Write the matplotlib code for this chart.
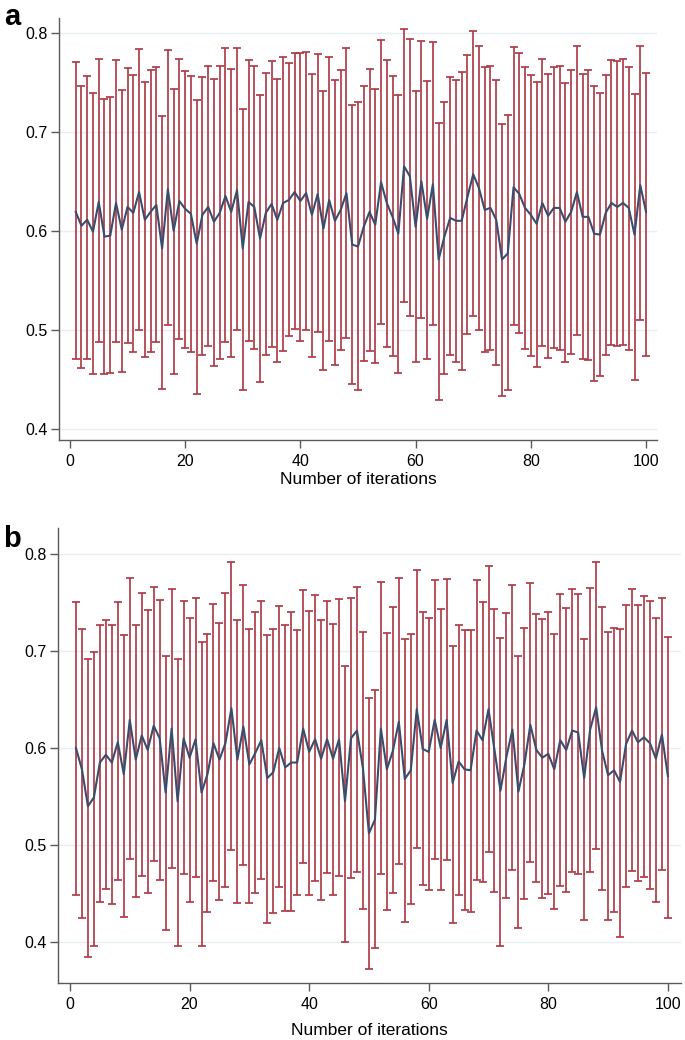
"""
Convergence of the estimate over repeated iterations, two panels (a, b).

Each panel shows the mean value per iteration with its interval as
red error bars, and the means joined by a line.
"""

import numpy as np
import matplotlib.pyplot as plt

plt.rcParams["font.family"] = ["Liberation Sans Narrow", "Liberation Sans", "DejaVu Sans"]

iterations = np.arange(1, 101)

# panel a
mean_a = [
    0.619, 0.605, 0.611, 0.599, 0.629, 0.594, 0.595, 0.628, 0.601, 0.624,
    0.618, 0.639, 0.611, 0.619, 0.626, 0.582, 0.642, 0.600, 0.630, 0.622,
    0.617, 0.587, 0.616, 0.624, 0.609, 0.618, 0.635, 0.619, 0.641, 0.582,
    0.629, 0.624, 0.592, 0.618, 0.627, 0.611, 0.628, 0.631, 0.639, 0.630,
    0.638, 0.616, 0.637, 0.602, 0.631, 0.610, 0.621, 0.638, 0.586, 0.584,
    0.604, 0.619, 0.606, 0.649, 0.628, 0.614, 0.597, 0.665, 0.655, 0.604,
    0.650, 0.612, 0.647, 0.571, 0.594, 0.613, 0.610, 0.610, 0.634, 0.657,
    0.643, 0.621, 0.623, 0.611, 0.571, 0.577, 0.644, 0.637, 0.623, 0.616,
    0.607, 0.628, 0.615, 0.623, 0.623, 0.609, 0.619, 0.639, 0.614, 0.614,
    0.597, 0.596, 0.618, 0.628, 0.624, 0.628, 0.623, 0.596, 0.646, 0.619,
]
upper_a = [
    0.770, 0.746, 0.756, 0.739, 0.773, 0.733, 0.735, 0.772, 0.742, 0.764,
    0.757, 0.783, 0.750, 0.762, 0.765, 0.716, 0.782, 0.743, 0.773, 0.761,
    0.756, 0.732, 0.755, 0.766, 0.753, 0.766, 0.784, 0.763, 0.784, 0.723,
    0.772, 0.766, 0.737, 0.759, 0.771, 0.753, 0.775, 0.769, 0.779, 0.779,
    0.780, 0.758, 0.778, 0.741, 0.775, 0.752, 0.762, 0.785, 0.727, 0.730,
    0.746, 0.763, 0.743, 0.793, 0.772, 0.756, 0.737, 0.804, 0.794, 0.741,
    0.792, 0.751, 0.791, 0.709, 0.730, 0.755, 0.752, 0.760, 0.777, 0.802,
    0.787, 0.765, 0.766, 0.752, 0.708, 0.717, 0.786, 0.779, 0.765, 0.757,
    0.750, 0.773, 0.758, 0.765, 0.766, 0.749, 0.762, 0.787, 0.758, 0.762,
    0.746, 0.739, 0.757, 0.772, 0.771, 0.773, 0.765, 0.738, 0.787, 0.759,
]
lower_a = [
    0.470, 0.461, 0.470, 0.455, 0.488, 0.455, 0.456, 0.488, 0.457, 0.487,
    0.477, 0.500, 0.472, 0.477, 0.488, 0.440, 0.505, 0.455, 0.491, 0.482,
    0.477, 0.435, 0.474, 0.484, 0.463, 0.470, 0.488, 0.472, 0.500, 0.439,
    0.489, 0.481, 0.447, 0.474, 0.483, 0.467, 0.479, 0.494, 0.501, 0.489,
    0.500, 0.472, 0.498, 0.459, 0.489, 0.464, 0.480, 0.492, 0.445, 0.439,
    0.468, 0.478, 0.466, 0.506, 0.483, 0.473, 0.456, 0.528, 0.514, 0.467,
    0.512, 0.470, 0.505, 0.429, 0.455, 0.474, 0.467, 0.459, 0.496, 0.514,
    0.500, 0.477, 0.480, 0.464, 0.433, 0.439, 0.505, 0.497, 0.481, 0.473,
    0.462, 0.484, 0.471, 0.482, 0.480, 0.467, 0.475, 0.495, 0.470, 0.469,
    0.448, 0.453, 0.474, 0.485, 0.484, 0.485, 0.480, 0.449, 0.510, 0.473,
]

# panel b
mean_b = [
    0.600, 0.578, 0.540, 0.549, 0.585, 0.593, 0.585, 0.606, 0.573, 0.629,
    0.588, 0.613, 0.598, 0.623, 0.610, 0.554, 0.620, 0.545, 0.610, 0.590,
    0.609, 0.554, 0.573, 0.605, 0.588, 0.605, 0.641, 0.588, 0.622, 0.583,
    0.595, 0.608, 0.569, 0.575, 0.600, 0.580, 0.585, 0.585, 0.620, 0.596,
    0.609, 0.589, 0.609, 0.589, 0.609, 0.545, 0.610, 0.618, 0.579, 0.512,
    0.526, 0.620, 0.578, 0.597, 0.627, 0.568, 0.577, 0.640, 0.599, 0.596,
    0.629, 0.600, 0.629, 0.564, 0.586, 0.578, 0.577, 0.618, 0.608, 0.640,
    0.598, 0.556, 0.591, 0.619, 0.555, 0.583, 0.624, 0.598, 0.590, 0.594,
    0.578, 0.608, 0.598, 0.618, 0.616, 0.569, 0.619, 0.642, 0.597, 0.572,
    0.577, 0.565, 0.604, 0.618, 0.606, 0.611, 0.605, 0.589, 0.614, 0.571,
]
upper_b = [
    0.751, 0.723, 0.692, 0.699, 0.727, 0.732, 0.727, 0.750, 0.717, 0.775,
    0.727, 0.760, 0.742, 0.766, 0.753, 0.695, 0.764, 0.692, 0.752, 0.734,
    0.755, 0.709, 0.718, 0.748, 0.729, 0.760, 0.792, 0.732, 0.768, 0.723,
    0.740, 0.752, 0.717, 0.723, 0.746, 0.727, 0.740, 0.722, 0.763, 0.741,
    0.758, 0.732, 0.752, 0.728, 0.754, 0.685, 0.755, 0.766, 0.720, 0.652,
    0.660, 0.771, 0.719, 0.745, 0.775, 0.712, 0.718, 0.784, 0.740, 0.734,
    0.773, 0.743, 0.774, 0.705, 0.727, 0.722, 0.722, 0.773, 0.750, 0.788,
    0.743, 0.713, 0.739, 0.768, 0.695, 0.724, 0.770, 0.738, 0.733, 0.740,
    0.718, 0.759, 0.744, 0.764, 0.759, 0.712, 0.765, 0.792, 0.745, 0.720,
    0.724, 0.723, 0.747, 0.764, 0.747, 0.757, 0.752, 0.734, 0.755, 0.714,
]
lower_b = [
    0.448, 0.425, 0.385, 0.396, 0.441, 0.455, 0.439, 0.464, 0.426, 0.486,
    0.446, 0.468, 0.451, 0.483, 0.464, 0.412, 0.476, 0.396, 0.470, 0.441,
    0.467, 0.396, 0.431, 0.463, 0.443, 0.457, 0.495, 0.440, 0.479, 0.440,
    0.450, 0.465, 0.420, 0.430, 0.457, 0.432, 0.432, 0.448, 0.481, 0.448,
    0.463, 0.443, 0.471, 0.448, 0.468, 0.400, 0.466, 0.472, 0.434, 0.372,
    0.394, 0.470, 0.433, 0.450, 0.480, 0.421, 0.439, 0.497, 0.459, 0.454,
    0.486, 0.454, 0.485, 0.420, 0.448, 0.433, 0.431, 0.464, 0.462, 0.493,
    0.452, 0.396, 0.445, 0.474, 0.414, 0.444, 0.482, 0.462, 0.445, 0.449,
    0.434, 0.458, 0.452, 0.472, 0.470, 0.423, 0.472, 0.496, 0.454, 0.423,
    0.431, 0.405, 0.457, 0.473, 0.463, 0.467, 0.455, 0.441, 0.474, 0.425,
]

y_ticks = [0.4, 0.5, 0.6, 0.7, 0.8]
x_ticks = [0, 20, 40, 60, 80, 100]

BAR_COLOR = "#ad3b47"
LINE_COLOR = "#3b4d6d"
GRID_COLOR = "#e6eef1"
AXIS_COLOR = "#5a5a5a"


def draw_panel(ax, mean, lower, upper, xlim, ylim, xlabel_pad):
    mean = np.asarray(mean)
    yerr = [mean - np.asarray(lower), np.asarray(upper) - mean]
    ax.errorbar(
        iterations, mean, yerr=yerr, fmt="none",
        ecolor=BAR_COLOR, elinewidth=1.3, capsize=3.2, capthick=1.3,
        alpha=0.95, zorder=2,
    )
    ax.plot(iterations, mean, color=LINE_COLOR, lw=1.5, zorder=3)

    ax.set_xlim(*xlim)
    ax.set_ylim(*ylim)
    ax.set_yticks(y_ticks)
    ax.set_yticklabels([f"{t:.1f}" for t in y_ticks])
    ax.set_xticks(x_ticks)
    ax.grid(axis="y", color=GRID_COLOR, lw=1.0, zorder=0)
    ax.set_axisbelow(True)

    for side in ("top", "right"):
        ax.spines[side].set_visible(False)
    for side in ("left", "bottom"):
        ax.spines[side].set_color(AXIS_COLOR)
        ax.spines[side].set_linewidth(1.0)
    ax.tick_params(direction="out", length=6, width=1.0, color=AXIS_COLOR,
                   labelsize=11.5, labelcolor="black")
    ax.tick_params(axis="y", pad=2)
    ax.tick_params(axis="x", pad=4)
    ax.set_xlabel("Number of iterations", fontsize=12.5, labelpad=xlabel_pad)


fig = plt.figure(figsize=(6.85, 10.40), dpi=100)

ax_a = fig.add_axes([0.0861, 0.5769, 0.873, 0.4058])
draw_panel(ax_a, mean_a, lower_a, upper_a,
           xlim=(-1.9, 101.9), ylim=(0.3886, 0.8148), xlabel_pad=2)

ax_b = fig.add_axes([0.0847, 0.0548, 0.9095, 0.4375])
draw_panel(ax_b, mean_b, lower_b, upper_b,
           xlim=(-2.0, 102.2), ylim=(0.3577, 0.8268), xlabel_pad=8)

# panel letters, placed on their baselines
letter_font = dict(fontsize=21, fontweight="bold",
                   family=["Liberation Sans", "DejaVu Sans"], va="baseline")
fig.text(0.006, 1 - 25 / 1040, "a", **letter_font)
fig.text(0.004, 1 - 547 / 1040, "b", **letter_font)

fig.savefig("out.png", dpi=100)
